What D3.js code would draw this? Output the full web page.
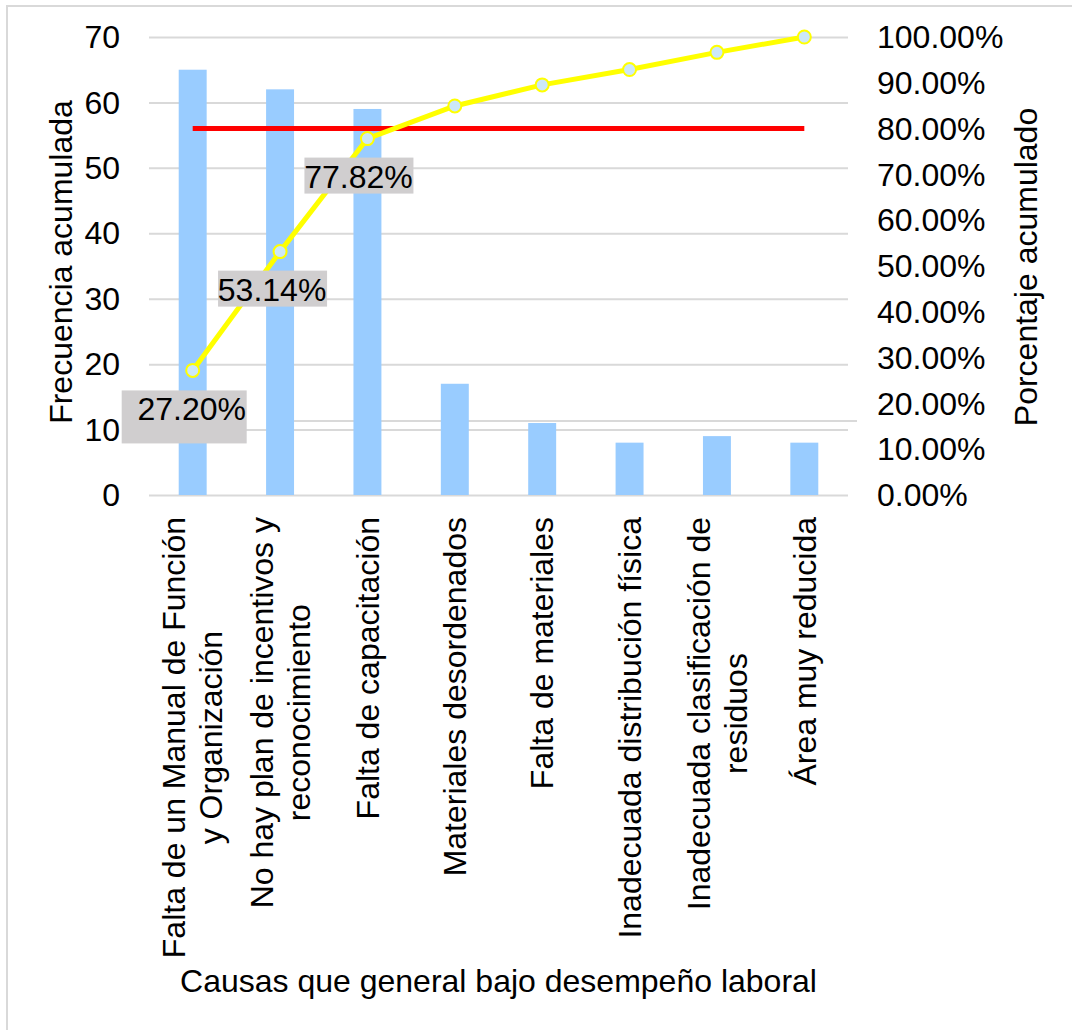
<!DOCTYPE html>
<html>
<head>
    <meta charset="utf-8">
    <script type="text/javascript" src="https://d3js.org/d3.v7.min.js"></script>
    <style>
body { margin: 0; background: #fff; }
text { font-family: "Liberation Sans", Arial, sans-serif; fill: #000; }
.grid line { stroke: #d9d9d9; stroke-width: 2px; }
    </style>
</head>
<body>
	<svg width="1072" height="1030"></svg>

    <script type="text/javascript">

	// causes, already sorted (pareto)
	var categories = [
		["Falta de un Manual de Función", "y Organización"],
		["No hay plan de incentivos y", "reconocimiento"],
		["Falta de capacitación"],
		["Materiales desordenados"],
		["Falta de materiales"],
		["Inadecuada distribución física"],
		["Inadecuada clasificación de", "residuos"],
		["Área muy reducida"]
	];
	var frequency = [65, 62, 59, 17, 11, 8, 9, 8];
	var cumPercent = [0.2720, 0.5314, 0.7782, 0.8494, 0.8954, 0.9289, 0.9665, 1.0];
	var limit80 = 0.80;
	var leftTicks = [0, 10, 20, 30, 40, 50, 60, 70];
	var rightTicks = [0, 0.1, 0.2, 0.3, 0.4, 0.5, 0.6, 0.7, 0.8, 0.9, 1.0];
	var labelIdx = [0, 1, 2]; // only first three points got a data label

	var fontSize = 32;

	var svg = d3.select("svg"),
		margin = {top: 37, right: 224, bottom: 535, left: 149},
		width = 1072 - margin.left - margin.right,
		height = 1030 - margin.top - margin.bottom;

	// outer frame
	svg.append("rect")
		.attr("x", 7).attr("y", 6)
		.attr("width", 1100).attr("height", 1100)
		.attr("fill", "none")
		.attr("stroke", "#d9d9d9")
		.attr("stroke-width", 2);

	var g = svg.append("g").attr("transform", "translate(" + margin.left + "," + margin.top + ")");

	var x = d3.scaleBand()
		.domain(d3.range(categories.length))
		.range([0, width])
		.paddingInner(0.68)
		.paddingOuter(0.34);

	var xc = function(i) { return x(i) + x.bandwidth() / 2; };

	var y = d3.scaleLinear().domain([0, 70]).range([height, 0]);
	var y2 = d3.scaleLinear().domain([0, 1]).range([height, 0]);

	// gridlines
	g.append("g")
		.attr("class", "grid")
		.call(d3.axisLeft(y).tickValues(leftTicks).tickSize(-width).tickFormat(""))
		.call(function(s) { s.select(".domain").remove(); });

	// stray light line left over in the original around 11.3
	g.append("line")
		.attr("x1", xc(1) + x.bandwidth() / 2).attr("x2", width + 9)
		.attr("y1", y(11.3)).attr("y2", y(11.3))
		.attr("stroke", "#d9d9d9").attr("stroke-width", 2);

	// bars
	g.selectAll(".bar")
		.data(frequency)
		.enter().append("rect")
		.attr("class", "bar")
		.attr("x", function(d, i) { return x(i); })
		.attr("width", x.bandwidth())
		.attr("y", function(d) { return y(d); })
		.attr("height", function(d) { return height - y(d); })
		.attr("fill", "#99ccff");

	// 80% line
	g.append("line")
		.attr("x1", xc(0)).attr("x2", xc(categories.length - 1))
		.attr("y1", y2(limit80)).attr("y2", y2(limit80))
		.attr("stroke", "#ff0000").attr("stroke-width", 5);

	// cumulative line
	var line = d3.line()
		.x(function(d, i) { return xc(i); })
		.y(function(d) { return y2(d); });

	g.append("path")
		.datum(cumPercent)
		.attr("fill", "none")
		.attr("stroke", "#ffff00")
		.attr("stroke-width", 5)
		.attr("d", line);

	g.selectAll(".dot")
		.data(cumPercent)
		.enter().append("circle")
		.attr("class", "dot")
		.attr("r", 6.5)
		.attr("cx", function(d, i) { return xc(i); })
		.attr("cy", function(d) { return y2(d); })
		.attr("fill", "#cce8f8")
		.attr("stroke", "#ffff00")
		.attr("stroke-width", 2);

	// data labels (box offsets: left, top, right, bottom relative to point)
	var boxOff = [[-71, 20, 54, 73], [-62, 19, 47, 55], [-63, 19, 46, 55]];
	var textOff = [[-1, 50], [-8, 49], [-9, 49]];

	labelIdx.forEach(function(i, k) {
		var px = xc(i), py = y2(cumPercent[i]);
		var b = boxOff[k];
		g.append("rect")
			.attr("x", px + b[0]).attr("y", py + b[1])
			.attr("width", b[2] - b[0]).attr("height", b[3] - b[1])
			.attr("fill", "#d0cecf");
		g.append("text")
			.attr("x", px + textOff[k][0]).attr("y", py + textOff[k][1])
			.attr("text-anchor", "middle")
			.style("font-size", fontSize + "px")
			.text(d3.format(".2%")(cumPercent[i]));
	});

	// left axis labels
	g.selectAll(".ltick")
		.data(leftTicks)
		.enter().append("text")
		.attr("x", -29)
		.attr("y", function(d) { return y(d); })
		.attr("dy", "0.35em")
		.attr("text-anchor", "end")
		.style("font-size", fontSize + "px")
		.text(function(d) { return d; });

	// right axis labels
	g.selectAll(".rtick")
		.data(rightTicks)
		.enter().append("text")
		.attr("x", width + 29)
		.attr("y", function(d) { return y2(d); })
		.attr("dy", "0.35em")
		.attr("text-anchor", "start")
		.style("font-size", fontSize + "px")
		.text(function(d) { return d3.format(".2%")(d); });

	// category labels, rotated, lines centred on each other, block hanging from the axis
	var lh = 37;
	categories.forEach(function(lines, i) {
		var cg = g.append("g")
			.attr("transform", "translate(" + xc(i) + "," + (height + 22) + ") rotate(-90)");
		var tx = cg.selectAll("text")
			.data(lines)
			.enter().append("text")
			.attr("y", function(d, j) { return (j - (lines.length - 1) / 2) * lh; })
			.attr("dy", "0.35em")
			.attr("text-anchor", "middle")
			.style("font-size", fontSize + "px")
			.text(function(d) { return d; });
		var maxLen = d3.max(tx.nodes(), function(n) { return n.getComputedTextLength(); });
		tx.attr("x", -maxLen / 2);
	});

	// axis titles
	g.append("text")
		.attr("x", width / 2)
		.attr("y", 992 - margin.top)
		.attr("text-anchor", "middle")
		.style("font-size", fontSize + "px")
		.text("Causas que general bajo desempeño laboral");

	g.append("text")
		.attr("transform", "translate(" + (72 - margin.left) + "," + (262 - margin.top) + ") rotate(-90)")
		.attr("text-anchor", "middle")
		.style("font-size", fontSize + "px")
		.text("Frecuencia acumulada");

	g.append("text")
		.attr("transform", "translate(" + (1037 - margin.left) + "," + (267 - margin.top) + ") rotate(-90)")
		.attr("text-anchor", "middle")
		.style("font-size", fontSize + "px")
		.text("Porcentaje acumulado");

	</script>
</body>
</html>
